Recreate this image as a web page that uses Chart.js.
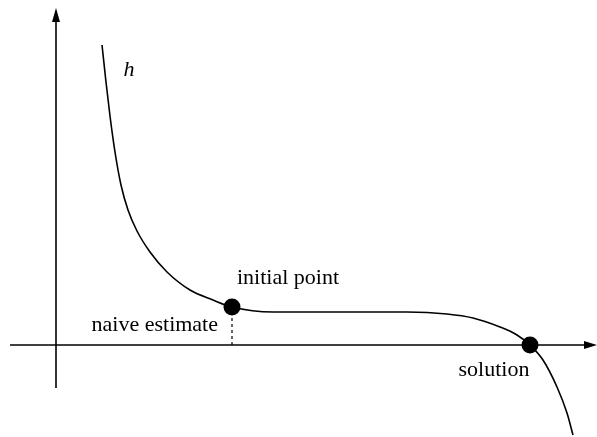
<!DOCTYPE html>
<html>
<head>
<meta charset="utf-8">
<script src="https://cdn.jsdelivr.net/npm/chart.js@4.4.0/dist/chart.umd.min.js"></script>
<style>
  html, body { margin: 0; padding: 0; background: #fff; }
  #wrap { width: 597px; height: 437px; }
</style>
</head>
<body>
<div id="wrap"><canvas id="c"></canvas></div>
<script>
// curve h
const curveX = [0.92, 1.0, 1.08, 1.18, 1.3, 1.44, 1.62, 1.88, 2.22, 2.68, 3.14, 3.52,
  4.34, 5.68, 7.02, 7.82, 8.34, 8.88, 9.22, 9.48, 9.74, 10.02, 10.22, 10.34];
const curveY = [6.0, 5.26, 4.58, 3.86, 3.2, 2.7, 2.28, 1.86, 1.46, 1.1, 0.9, 0.76,
  0.66, 0.66, 0.66, 0.62, 0.54, 0.36, 0.2, 0, -0.3, -0.84, -1.36, -1.8];

// marked points
const pointNames = ["initial point", "solution"];
const pointX = [3.52, 9.48];
const pointY = [0.76, 0];

// axis extents
const xAxisRange = [-0.92, 10.82];
const yAxisRange = [-0.86, 6.74];

const labels = [
  { text: "h", x: 1.46, y: 5.5, align: "center", italic: true },
  { text: "initial point", x: 4.64, y: 1.34, align: "center" },
  { text: "naive estimate", x: 3.24, y: 0.4, align: "right" },
  { text: "solution", x: 8.76, y: -0.5, align: "center" },
];

const axesPlugin = {
  id: "axes",
  beforeDatasetsDraw(chart) {
    const { ctx, scales } = chart;
    const xs = scales.x, ys = scales.y;
    const x0 = xs.getPixelForValue(0), y0 = ys.getPixelForValue(0);
    ctx.save();
    ctx.strokeStyle = "#000";
    ctx.fillStyle = "#000";
    ctx.lineWidth = 1.6;
    // x axis
    const xa = xs.getPixelForValue(xAxisRange[0]), xb = xs.getPixelForValue(xAxisRange[1]);
    ctx.beginPath(); ctx.moveTo(xa, y0); ctx.lineTo(xb - 10, y0); ctx.stroke();
    ctx.beginPath(); ctx.moveTo(xb, y0); ctx.lineTo(xb - 13, y0 - 4); ctx.lineTo(xb - 13, y0 + 4); ctx.closePath(); ctx.fill();
    // y axis
    const ya = ys.getPixelForValue(yAxisRange[0]), yb = ys.getPixelForValue(yAxisRange[1]);
    ctx.beginPath(); ctx.moveTo(x0, ya); ctx.lineTo(x0, yb + 10); ctx.stroke();
    ctx.beginPath(); ctx.moveTo(x0, yb); ctx.lineTo(x0 - 4, yb + 14); ctx.lineTo(x0 + 4, yb + 14); ctx.closePath(); ctx.fill();
    ctx.restore();
  },
  afterDatasetsDraw(chart) {
    const { ctx, scales } = chart;
    ctx.save();
    ctx.fillStyle = "#000";
    ctx.textBaseline = "middle";
    labels.forEach(l => {
      ctx.font = (l.italic ? "italic " : "") + "22px 'Liberation Serif', 'DejaVu Serif', serif";
      ctx.textAlign = l.align;
      ctx.fillText(l.text, scales.x.getPixelForValue(l.x), scales.y.getPixelForValue(l.y));
    });
    ctx.restore();
  }
};

new Chart(document.getElementById("c"), {
  type: "line",
  data: {
    datasets: [
      {
        label: "h",
        data: curveX.map((x, i) => ({ x: x, y: curveY[i] })),
        borderColor: "#000",
        borderWidth: 1.6,
        pointRadius: 0,
        cubicInterpolationMode: "monotone",
        fill: false,
      },
      {
        label: "naive estimate",
        data: [{ x: pointX[0], y: 0 }, { x: pointX[0], y: pointY[0] - 0.17 }],
        borderColor: "#000",
        borderWidth: 1.2,
        borderDash: [3, 3],
        pointRadius: 0,
        fill: false,
      },
      {
        label: "points",
        data: pointX.map((x, i) => ({ x: x, y: pointY[i] })),
        showLine: false,
        pointRadius: 8.5,
        pointBackgroundColor: "#000",
        pointBorderColor: "#000",
        pointBorderWidth: 0,
      },
    ],
  },
  options: {
    responsive: true,
    maintainAspectRatio: false,
    animation: false,
    layout: { padding: 0, autoPadding: false },
    plugins: { legend: { display: false }, tooltip: { enabled: false } },
    scales: {
      x: { type: "linear", min: -1.12, max: 10.82, display: false },
      y: { type: "linear", min: -1.84, max: 6.9, display: false },
    },
  },
  plugins: [axesPlugin],
});
</script>
</body>
</html>
